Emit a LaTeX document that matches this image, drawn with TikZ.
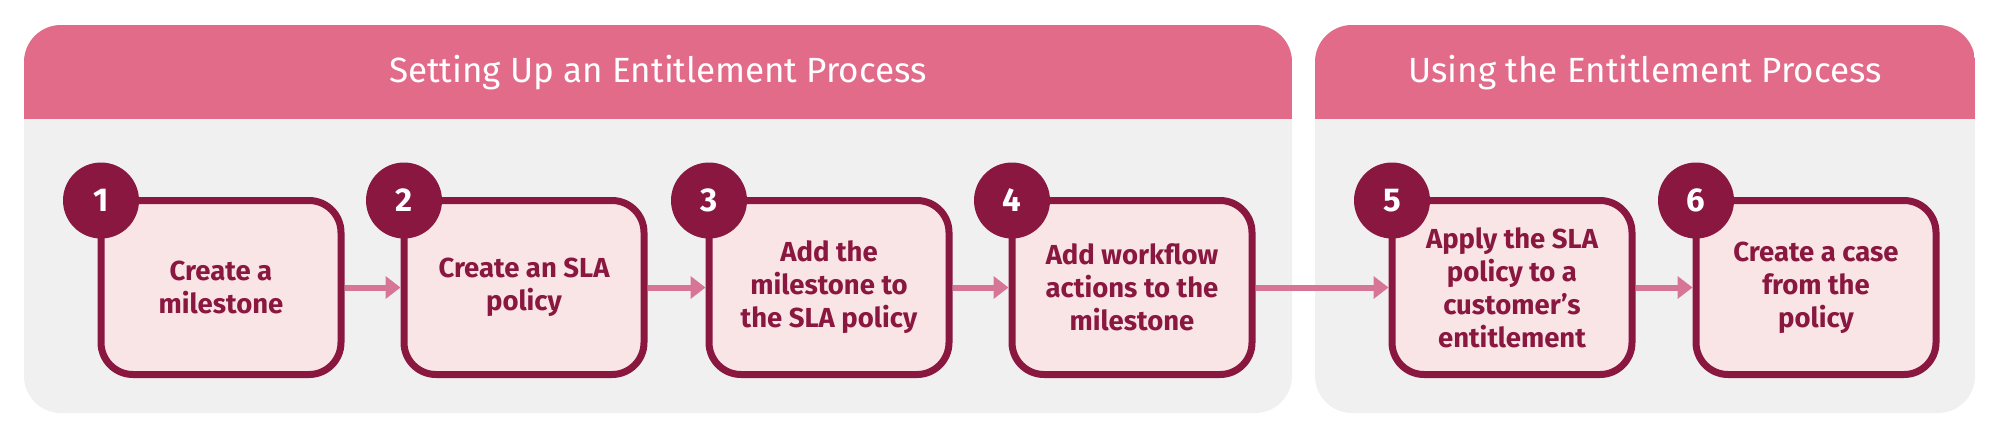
\documentclass[tikz,border=0pt]{standalone}
\usepackage{fontspec}
\setmainfont{Fira Sans}
\newfontfamily\boxfont{Fira Sans}
\newfontfamily\headfont{Fira Sans}
\usetikzlibrary{arrows.meta}
\definecolor{headpink}{HTML}{E26B8A}
\definecolor{panelgray}{HTML}{F0F0F0}
\definecolor{boxfill}{HTML}{F9E4E6}
\definecolor{darkmaroon}{HTML}{8A1740}
\definecolor{arrowpink}{HTML}{D77596}
\tikzset{
  stepbox/.style={draw=darkmaroon, fill=boxfill, line width=7pt, rounded corners=32pt,
    minimum width=240pt, minimum height=174pt, inner sep=0pt, outer sep=0pt,
    align=center, text=darkmaroon, font=\boxfont\bfseries\fontsize{27.5}{33}\selectfont},
  numdot/.style={circle, fill=darkmaroon, minimum size=76pt, inner sep=0pt,
    text=white, font=\boxfont\bfseries\fontsize{33}{33}\selectfont},
  headtext/.style={anchor=base, text=white, font=\headfont\fontsize{35}{40}\selectfont},
  flow/.style={draw=arrowpink, line width=6pt, shorten <=3.5pt, shorten >=3.5pt,
    -{Triangle[length=15pt,width=22pt]}},
}
\begin{document}
\begin{tikzpicture}[x=1pt,y=-1pt]
\useasboundingbox (0,0) rectangle (2000,440);
% panels
\fill[panelgray, rounded corners=37pt] (24,25) rectangle (1292,413);
\begin{scope}
  \clip[rounded corners=37pt] (24,25) rectangle (1292,413);
  \fill[headpink] (24,25) rectangle (1292,119);
\end{scope}
\fill[panelgray, rounded corners=37pt] (1315,25) rectangle (1975,413);
\begin{scope}
  \clip[rounded corners=37pt] (1315,25) rectangle (1975,413);
  \fill[headpink] (1315,25) rectangle (1975,119);
\end{scope}
\node[headtext] (h1) at (658,82) {Setting Up an Entitlement Process};
\node[headtext] (h2) at (1645,82) {Using the Entitlement Process};
% boxes
\node[stepbox] (b1) at (221,287.5) {Create a\\milestone};
\node[stepbox] (b2) at (524,287.5) {Create an SLA\\policy};
\node[stepbox] (b3) at (829,287.5) {Add the\\milestone to\\the SLA policy};
\node[stepbox] (b4) at (1132,287.5) {Add workflow\\actions to the\\milestone};
\node[stepbox] (b5) at (1512,287.5) {Apply the SLA\\policy to a\\customer’s\\entitlement};
\node[stepbox] (b6) at (1816,287.5) {Create a case\\from the\\policy};
% numbers
\node[numdot] (n1) at (b1.north west) {1};
\node[numdot] (n2) at (b2.north west) {2};
\node[numdot] (n3) at (b3.north west) {3};
\node[numdot] (n4) at (b4.north west) {4};
\node[numdot] (n5) at (b5.north west) {5};
\node[numdot] (n6) at (b6.north west) {6};
% arrows
\draw[flow] (b1.east) -- (b2.west);
\draw[flow] (b2.east) -- (b3.west);
\draw[flow] (b3.east) -- (b4.west);
\draw[flow] (b4.east) -- (b5.west);
\draw[flow] (b5.east) -- (b6.west);
\end{tikzpicture}
\end{document}
